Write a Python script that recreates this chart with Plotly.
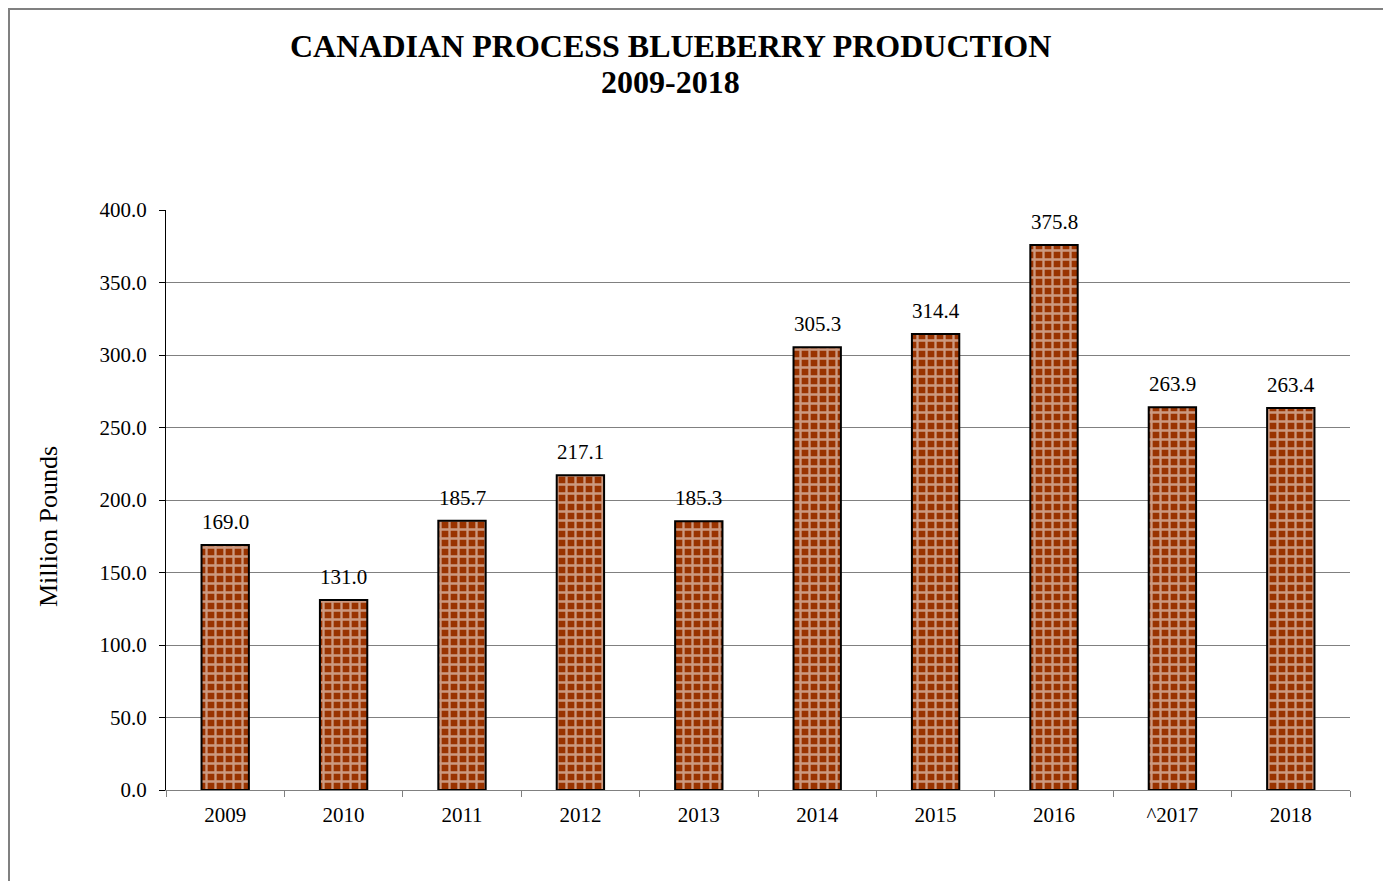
import plotly.graph_objects as go

years = ["2009", "2010", "2011", "2012", "2013", "2014", "2015", "2016", "^2017", "2018"]
production = [169.0, 131.0, 185.7, 217.1, 185.3, 305.3, 314.4, 375.8, 263.9, 263.4]

font = "Liberation Serif, Times New Roman, serif"

fig = go.Figure(
    go.Bar(
        x=years,
        y=production,
        width=0.4,
        marker=dict(
            color="#993300",
            line=dict(color="black", width=2),
            pattern=dict(shape="+", fgcolor="white", bgcolor="#993300", size=9, solidity=0.45),
        ),
        hoverinfo="x+y",
    )
)

# value labels (category index as x so the axis stays categorical)
for i, v in enumerate(production):
    fig.add_annotation(x=i, y=v, text=f"{v:.1f}", showarrow=False, yshift=23,
                       font=dict(family=font, size=21, color="black"))

# title lines
fig.add_annotation(xref="paper", yref="paper", x=0.4257, y=1.2828, showarrow=False,
                   xanchor="center", yanchor="middle",
                   text="<b>CANADIAN PROCESS BLUEBERRY PRODUCTION</b>",
                   font=dict(family=font, size=32, color="black"))
fig.add_annotation(xref="paper", yref="paper", x=0.4257, y=1.2207, showarrow=False,
                   xanchor="center", yanchor="middle",
                   text="<b>2009-2018</b>",
                   font=dict(family=font, size=32, color="black"))

# y axis title
fig.add_annotation(xref="paper", yref="paper", x=-0.0997, y=0.455, showarrow=False,
                   xanchor="center", yanchor="middle",
                   text="Million Pounds", textangle=-90,
                   font=dict(family=font, size=26, color="black"))

# outer chart frame
fig.add_shape(type="rect", xref="paper", yref="paper", x0=-0.1326, x1=1.0304, y0=-0.2, y1=1.3466,
              line=dict(color="#808080", width=2), layer="below")

fig.update_layout(
    width=1383,
    height=873,
    plot_bgcolor="white",
    paper_bgcolor="white",
    margin=dict(l=158, r=41, t=202, b=91),
    showlegend=False,
    font=dict(family=font, color="black", size=21),
    xaxis=dict(
        type="category", range=[-0.5, len(years) - 0.5],
        showline=True, linecolor="#808080", linewidth=1,
        ticks="outside", tickson="boundaries", ticklen=6, tickcolor="#808080",
        tickfont=dict(size=21), tickangle=0, ticklabelstandoff=6,
    ),
    yaxis=dict(
        range=[0, 400], dtick=50, tickformat=".1f",
        showline=True, linecolor="black", linewidth=1,
        ticks="outside", ticklen=6, tickcolor="black",
        gridcolor="#808080", gridwidth=1,
        tickfont=dict(size=21), ticklabelstandoff=8,
    ),
)

fig.write_html("out.html")
